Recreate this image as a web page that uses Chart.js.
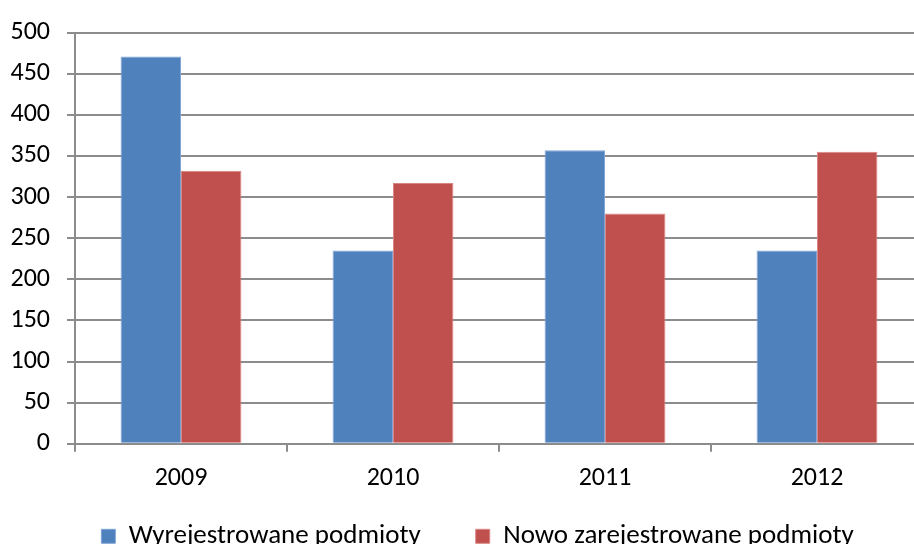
<!DOCTYPE html>
<html>
<head>
<meta charset="utf-8">
<script src="https://cdn.jsdelivr.net/npm/chart.js@4"></script>
<style>
  html, body { margin: 0; padding: 0; background: #fff; overflow: hidden; }
  #wrap { position: relative; width: 954px; height: 597px; }
</style>
</head>
<body>
<div id="wrap"><canvas id="regChart"></canvas></div>
<script>
const years = ["2009", "2010", "2011", "2012"];
const wyrejestrowane = [471, 235, 357, 235];
const nowoZarejestrowane = [332, 317, 280, 355];
const yTicks = [0, 50, 100, 150, 200, 250, 300, 350, 400, 450, 500];

const COLORS = {
  blue: "#4f81bd",
  blueEdge: "#7fa5d6",
  red: "#c0504d",
  redEdge: "#d98583",
  grid: "#8c8c8c",
  text: "#000000"
};

const FONT = "Carlito, 'Liberation Sans', sans-serif";

// legend sits closer to the axis (and a bit more to the right) than Chart.js would put it
const legendNudge = {
  id: "legendNudge",
  afterLayout(chart) {
    const lg = chart.legend;
    if (!lg) return;
    const h = lg.bottom - lg.top;
    lg.top = chart.chartArea.bottom + 24;
    lg.bottom = lg.top + h;
    lg.left += 16;
    lg.right += 16;
  }
};

new Chart(document.getElementById("regChart"), {
  type: "bar",
  data: {
    labels: years,
    datasets: [{
      label: "Wyrejestrowane podmioty",
      data: wyrejestrowane,
      backgroundColor: COLORS.blue,
      borderColor: COLORS.blueEdge,
      borderWidth: 1
    }, {
      label: "Nowo zarejestrowane podmioty",
      data: nowoZarejestrowane,
      backgroundColor: COLORS.red,
      borderColor: COLORS.redEdge,
      borderWidth: 1
    }]
  },
  plugins: [legendNudge],
  options: {
    responsive: true,
    maintainAspectRatio: false,
    animation: false,
    devicePixelRatio: 1,
    layout: { padding: { top: 28, right: 31, left: 0, bottom: 0 } },
    datasets: {
      bar: { categoryPercentage: 0.57, barPercentage: 1.0 }
    },
    plugins: {
      tooltip: { enabled: false },
      legend: {
        position: "bottom",
        labels: {
          color: COLORS.text,
          font: { family: FONT, size: 27 },
          boxWidth: 14,
          boxHeight: 14,
          padding: 55,
          useBorderRadius: false
        }
      }
    },
    scales: {
      x: {
        grid: {
          offset: true,
          drawOnChartArea: false,
          drawTicks: true,
          tickLength: 8,
          color: COLORS.grid,
          lineWidth: 2
        },
        border: { color: COLORS.grid, width: 2 },
        ticks: {
          color: COLORS.text,
          font: { family: FONT, size: 26 },
          padding: 11,
          autoSkip: false,
          maxRotation: 0
        }
      },
      y: {
        min: 0,
        max: 500,
        afterBuildTicks: scale => { scale.ticks = yTicks.map(v => ({ value: v })); },
        afterFit: scale => { scale.width = 75; },
        grid: {
          color: COLORS.grid,
          lineWidth: 2,
          tickLength: 8
        },
        border: { color: COLORS.grid, width: 2 },
        ticks: {
          color: COLORS.text,
          font: { family: FONT, size: 26 },
          padding: 17
        }
      }
    }
  }
});
</script>
</body>
</html>
